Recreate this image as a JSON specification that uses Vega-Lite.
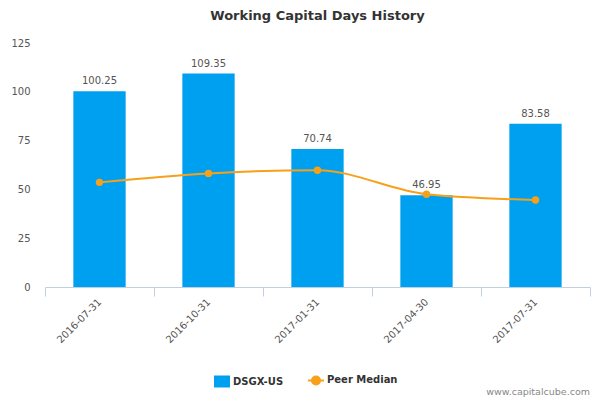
{
  "$schema": "https://vega.github.io/schema/vega-lite/v6.json",
  "autosize": {"type": "none"},
  "width": 545,
  "height": 244,
  "padding": {"left": 45, "top": 43, "right": 10, "bottom": 113},
  "background": "white",
  "title": {
    "text": "Working Capital Days History",
    "fontSize": 13,
    "fontWeight": "bold",
    "color": "#333333",
    "font": "DejaVu Sans",
    "anchor": "middle",
    "offset": 15
  },
  "data": {
    "values": [
      {"date": "2016-07-31", "days": 100.25, "peer": 53.6},
      {"date": "2016-10-31", "days": 109.35, "peer": 58.2},
      {"date": "2017-01-31", "days": 70.74, "peer": 59.8},
      {"date": "2017-04-30", "days": 46.95, "peer": 47.5},
      {"date": "2017-07-31", "days": 83.58, "peer": 44.6}
    ]
  },
  "encoding": {
    "x": {
      "field": "date",
      "type": "ordinal",
      "title": null,
      "scale": {"paddingInner": 0, "paddingOuter": 0},
      "axis": {
        "labelAngle": -45,
        "labelAlign": "right",
        "labelBaseline": "middle",
        "labelColor": "#555555",
        "labelFontSize": 10,
        "labelPadding": 4,
        "domainColor": "#c0d0e0",
        "tickColor": "#c0d0e0",
        "tickSize": 9,
        "tickBand": "extent",
        "grid": false
      }
    }
  },
  "layer": [
    {
      "mark": {"type": "bar", "width": {"band": 0.48}, "color": "#00a0f0"},
      "encoding": {
        "y": {
          "field": "days",
          "type": "quantitative",
          "title": null,
          "scale": {"domain": [0, 125], "nice": false},
          "axis": {
            "values": [0, 25, 50, 75, 100, 125],
            "ticks": false,
            "domain": false,
            "grid": false,
            "labelPadding": 15,
            "labelColor": "#555555",
            "labelFontSize": 10
          }
        },
        "color": {
          "datum": "DSGX-US",
          "scale": {"domain": ["DSGX-US", "Peer Median"], "range": ["#00a0f0", "#f7a11a"]},
          "legend": {
            "title": null,
            "orient": "none",
            "legendX": 172,
            "legendY": 332,
            "direction": "horizontal",
            "labelFontWeight": "bold",
            "labelFontSize": 10,
            "labelColor": "#333333",
            "symbolSize": 144,
            "columnPadding": 20,
            "labelOffset": 6,
            "symbolOpacity": 1,
            "encode": {
              "symbols": {
                "update": {
                  "shape": {"signal": "datum.value === 'DSGX-US' ? 'M-1.33,-1H1.33V1H-1.33Z' : 'M-1.33,0H1.33M0.67,0A0.67,0.67,0,1,1,-0.67,0A0.67,0.67,0,1,1,0.67,0Z'"},
                  "stroke": {"signal": "datum.value === 'DSGX-US' ? '#00a0f0' : '#f7a11a'"},
                  "fill": {"signal": "datum.value === 'DSGX-US' ? '#00a0f0' : '#f7a11a'"},
                  "strokeWidth": {"signal": "datum.value === 'DSGX-US' ? 0 : 2"}
                }
              }
            }
          }
        }
      }
    },
    {
      "mark": {"type": "text", "baseline": "bottom", "dy": -5, "fontSize": 10, "color": "#555555"},
      "encoding": {
        "y": {"field": "days", "type": "quantitative"},
        "text": {"field": "days", "type": "quantitative", "format": ".2f"}
      }
    },
    {
      "mark": {"type": "line", "interpolate": "monotone", "strokeWidth": 2},
      "encoding": {
        "y": {"field": "peer", "type": "quantitative"},
        "color": {"datum": "Peer Median"}
      }
    },
    {
      "mark": {"type": "point", "filled": true, "size": 55, "opacity": 1},
      "encoding": {
        "y": {"field": "peer", "type": "quantitative"},
        "color": {"datum": "Peer Median"}
      }
    },
    {
      "data": {"values": [{"site": "www.capitalcube.com"}]},
      "mark": {"type": "text", "align": "right", "baseline": "middle", "fontSize": 9.5, "color": "#888888"},
      "encoding": {
        "x": {"datum": "2017-07-31", "bandPosition": 1},
        "y": {"datum": -54},
        "text": {"field": "site"}
      }
    }
  ],
  "config": {
    "font": "DejaVu Sans",
    "view": {"stroke": null}
  }
}
